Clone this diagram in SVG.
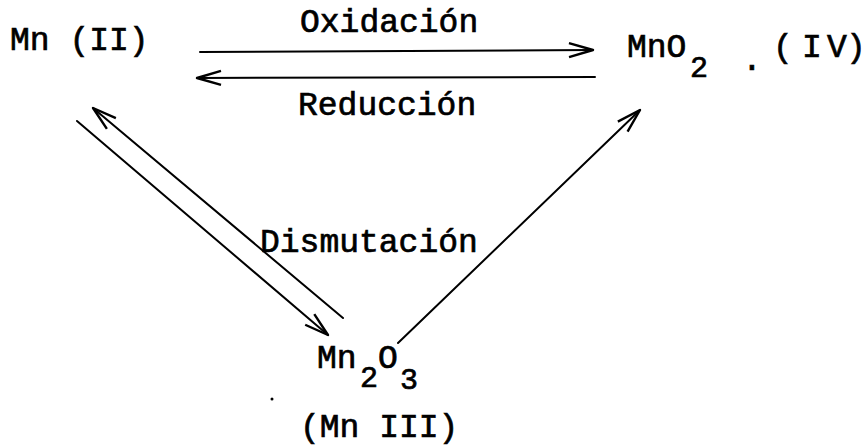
<svg xmlns="http://www.w3.org/2000/svg" width="867" height="447" viewBox="0 0 867 447">
<style>
text{font-family:"Liberation Mono","DejaVu Sans Mono",monospace;font-size:33px;fill:#000;stroke:#000;stroke-width:0.7}
text.sub{font-size:30px}
.c{fill:none;stroke:#000;stroke-width:2;stroke-linecap:round}
</style>
<defs>
<marker id="ah" markerUnits="userSpaceOnUse" markerWidth="40" markerHeight="24" viewBox="-30 -12 34 24" refX="0" refY="0" orient="auto" overflow="visible">
<path d="M-24,-7 L0,0 L-24,7" fill="none" stroke="#000" stroke-width="2.4" stroke-linejoin="round"/>
</marker>
</defs>
<rect width="867" height="447" fill="#fff"/>
<g id="connectors">
<path class="c" d="M200,52 L593,50" marker-end="url(#ah)"/>
<path class="c" d="M595,77 L197,78" marker-end="url(#ah)"/>
<path class="c" d="M77,121 L328,335" marker-end="url(#ah)"/>
<path class="c" d="M343,318 L93,108" marker-end="url(#ah)"/>
<path class="c" d="M398,343 L640,110" marker-end="url(#ah)"/>
</g>
<g id="labels">
<text x="300" y="32">Oxidación</text>
<text x="298" y="115">Reducción</text>
<text x="260" y="252">Dismutación</text>
</g>
<g id="mn2">
<text x="10" y="50">Mn (II)</text>
</g>
<g id="mno2">
<text x="627" y="57">MnO</text>
<text class="sub" x="690" y="77">2</text>
<text x="742" y="70">.</text>
<text x="773 792 802 827 846" y="57">( IV)</text>
</g>
<g id="mn2o3">
<text x="317" y="368">Mn</text>
<text class="sub" x="360" y="387">2</text>
<text x="378" y="368">O</text>
<text class="sub" x="400" y="389">3</text>
<text x="300" y="437">(Mn III)</text>
</g>
<circle cx="272" cy="399" r="1.5" fill="#000"/>
</svg>
